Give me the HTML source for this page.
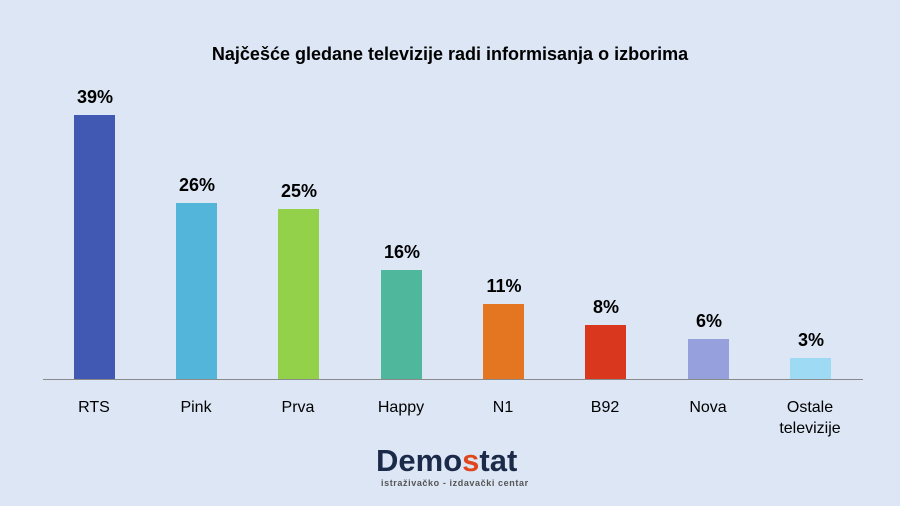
<!DOCTYPE html>
<html><head><style>
body{margin:0;width:900px;height:506px;background:#dce6f4;font-family:"Liberation Sans",sans-serif;position:relative;overflow:hidden}
.t{position:absolute;top:44px;left:0;width:900px;text-align:center;font-weight:bold;font-size:18px;color:#000}
.b{position:absolute;width:41px}
.v{position:absolute;width:80px;text-align:center;font-weight:bold;font-size:18px}
.l{position:absolute;width:100px;text-align:center;font-size:16px;top:397px;line-height:21px}
</style></head><body>
<div class="t">Najčešće gledane televizije radi informisanja o izborima</div>
<div style="position:absolute;left:43px;top:379px;width:820px;height:1px;background:#8a8a8a"></div>
<div class="b" style="left:74px;top:115px;height:264px;background:#4259b4"></div>
<div class="b" style="left:176px;top:203px;height:176px;background:#52b5d9"></div>
<div class="b" style="left:278px;top:209px;height:170px;background:#93d14a"></div>
<div class="b" style="left:381px;top:270px;height:109px;background:#4fb89c"></div>
<div class="b" style="left:483px;top:304px;height:75px;background:#e47521"></div>
<div class="b" style="left:585px;top:325px;height:54px;background:#d9371e"></div>
<div class="b" style="left:688px;top:339px;height:40px;background:#95a0dc"></div>
<div class="b" style="left:790px;top:358px;height:21px;background:#9edaf4"></div>
<div class="v" style="left:55px;top:87px">39%</div>
<div class="v" style="left:157px;top:175px">26%</div>
<div class="v" style="left:259px;top:181px">25%</div>
<div class="v" style="left:362px;top:242px">16%</div>
<div class="v" style="left:464px;top:276px">11%</div>
<div class="v" style="left:566px;top:297px">8%</div>
<div class="v" style="left:669px;top:311px">6%</div>
<div class="v" style="left:771px;top:330px">3%</div>
<div class="l" style="left:44px">RTS</div>
<div class="l" style="left:146px">Pink</div>
<div class="l" style="left:248px">Prva</div>
<div class="l" style="left:351px">Happy</div>
<div class="l" style="left:453px">N1</div>
<div class="l" style="left:555px">B92</div>
<div class="l" style="left:658px">Nova</div>
<div class="l" style="left:760px">Ostale<br>televizije</div>
<div style="position:absolute;left:376px;top:444px;font-size:31px;font-weight:bold;color:#1c2a4a;letter-spacing:0px;line-height:34px">Demo<span style="color:#e0461e">s</span>tat</div>
<div style="position:absolute;left:381px;top:478px;font-size:9px;color:#555;font-weight:bold;letter-spacing:0.6px">istraživačko - izdavački centar</div>
</body></html>
